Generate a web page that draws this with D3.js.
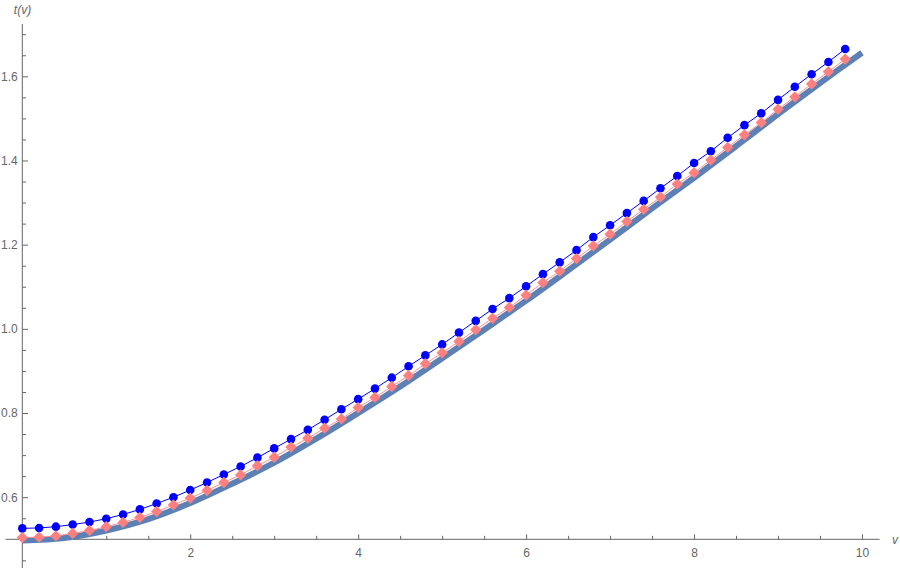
<!DOCTYPE html>
<html><head><meta charset="utf-8">
<script src="https://cdn.jsdelivr.net/npm/d3@7"></script>
<style>body{margin:0;background:#fff}svg{display:block}</style>
</head><body>
<svg id="c" width="900" height="568"></svg>
<script>
// ---- data ----
const vPoints = d3.range(50).map(i => +(i * 0.2).toFixed(1));
const blueValues = [0.526,0.527,0.530,0.535,0.541,0.549,0.559,0.571,0.585,0.600,
  0.617,0.635,0.654,0.673,0.694,0.716,0.738,0.760,0.784,0.809,
  0.833,0.858,0.884,0.911,0.937,0.963,0.991,1.019,1.047,1.073,
  1.101,1.130,1.158,1.187,1.218,1.246,1.275,1.304,1.334,1.363,
  1.394,1.422,1.454,1.484,1.512,1.544,1.575,1.605,1.634,1.665];
const pinkValues = [0.504,0.505,0.508,0.514,0.521,0.530,0.540,0.552,0.566,0.582,
  0.598,0.616,0.635,0.653,0.675,0.695,0.719,0.740,0.764,0.786,
  0.813,0.837,0.863,0.889,0.917,0.943,0.970,0.998,1.025,1.051,
  1.080,1.110,1.137,1.167,1.197,1.225,1.255,1.284,1.313,1.344,
  1.371,1.401,1.431,1.461,1.490,1.522,1.551,1.582,1.611,1.641];
const curveV = [0,0.5,1,1.5,2,2.5,3,3.5,4,4.5,5,5.5,6,6.5,7,7.5,8,8.5,9,9.5,10];
const curveValues = [0.497,0.503,0.521,0.548,0.586,0.632,0.682,0.739,0.800,0.863,
  0.930,0.998,1.067,1.139,1.212,1.286,1.359,1.434,1.510,1.584,1.656];
const xMajor = [2,4,6,8,10];
const xMinor = d3.range(1, 21).map(i => i * 0.5).filter(v => v % 2 !== 0);
const yMajor = [0.6,0.8,1.0,1.2,1.4,1.6];
const yMinor = d3.range(9, 35).map(i => +(i * 0.05).toFixed(2)).filter(v => !yMajor.some(m => Math.abs(m - v) < 1e-9) && Math.abs(v-0.5)>1e-9);

// ---- scales ----
const svg = d3.select("#c");
const x = d3.scaleLinear().domain([0, 10]).range([22.3, 862]);
const y = d3.scaleLinear().domain([0.5, 1.6]).range([539.3, 76.3]);
const axisColor = "#666";
const font = "'Liberation Sans', Arial, sans-serif";

// ---- axes ----
const gx = svg.append("g").attr("transform", `translate(0,${y(0.5)})`);
gx.append("line").attr("x1", x(-0.2)).attr("x2", x(10.21)).attr("stroke", axisColor).attr("stroke-width", 1);
gx.append("g").call(d3.axisBottom(x).tickValues(xMinor).tickSizeInner(-3.5).tickSizeOuter(0).tickFormat(""))
  .call(g => g.select(".domain").remove());
gx.append("g").call(d3.axisBottom(x).tickValues(xMajor).tickSizeInner(-5).tickSizeOuter(0).tickPadding(9).tickFormat(d3.format("d")))
  .call(g => g.select(".domain").remove());
gx.selectAll(".tick line").attr("stroke", axisColor);
gx.selectAll(".tick text").attr("fill", axisColor).style("font-family", font).style("font-size", "12px");

const gy = svg.append("g").attr("transform", `translate(${x(0)},0)`);
gy.append("line").attr("y1", y(1.7245)).attr("y2", y(0.43)).attr("stroke", axisColor).attr("stroke-width", 1);
gy.append("g").call(d3.axisLeft(y).tickValues(yMinor).tickSizeInner(-3.7).tickSizeOuter(0).tickFormat(""))
  .call(g => g.select(".domain").remove());
gy.append("g").call(d3.axisLeft(y).tickValues(yMajor).tickSizeInner(-5.7).tickSizeOuter(0).tickPadding(4.5).tickFormat(d3.format(".1f")))
  .call(g => g.select(".domain").remove());
gy.selectAll(".tick line").attr("stroke", axisColor);
gy.selectAll(".tick text").attr("fill", axisColor).style("font-family", font).style("font-size", "12px");

svg.append("text").attr("x", 22.5).attr("y", 14).attr("text-anchor", "middle")
  .attr("fill", axisColor).style("font-family", font).style("font-size", "12px").style("font-style", "italic").text("t(v)");
svg.append("text").attr("x", 892).attr("y", y(0.5) + 4.5).attr("text-anchor", "start")
  .attr("fill", axisColor).style("font-family", font).style("font-size", "12px").style("font-style", "italic").text("v");

// ---- thick curve ----
const curveData = curveV.map((v, i) => [v, curveValues[i]]);
svg.append("path").datum(curveData)
  .attr("d", d3.line().x(d => x(d[0])).y(d => y(d[1])).curve(d3.curveCatmullRom))
  .attr("fill", "none").attr("stroke", "#5E81B5").attr("stroke-width", 6).attr("stroke-linecap", "butt");

// ---- blue series ----
const blueData = vPoints.map((v, i) => [v, blueValues[i]]);
svg.append("path").datum(blueData)
  .attr("d", d3.line().x(d => x(d[0])).y(d => y(d[1])))
  .attr("fill", "none").attr("stroke", "#0000FF").attr("stroke-width", 1);
svg.append("g").selectAll("circle").data(blueData).join("circle")
  .attr("cx", d => x(d[0])).attr("cy", d => y(d[1])).attr("r", 4.3).attr("fill", "#0000FF");

// ---- pink series ----
const pinkData = vPoints.map((v, i) => [v, pinkValues[i]]);
svg.append("path").datum(pinkData)
  .attr("d", d3.line().x(d => x(d[0])).y(d => y(d[1])))
  .attr("fill", "none").attr("stroke", "#FF9090").attr("stroke-width", 1);
const diamond = d3.symbol().type(d3.symbolSquare).size(64);
svg.append("g").selectAll("path").data(pinkData).join("path")
  .attr("d", diamond)
  .attr("transform", d => `translate(${x(d[0])},${y(d[1])}) rotate(45)`)
  .attr("fill", "#FF8080");
</script>
</body></html>
